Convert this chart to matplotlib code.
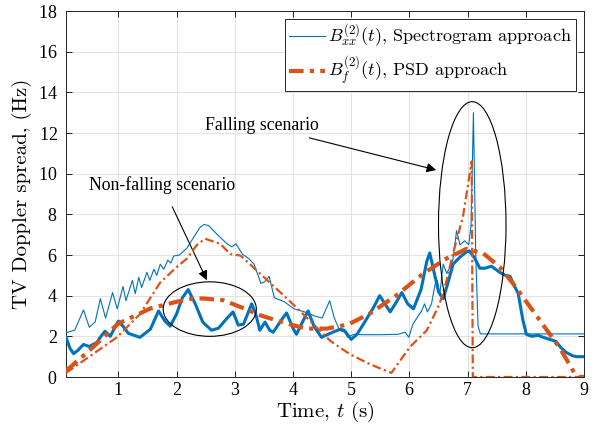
import matplotlib
matplotlib.use("Agg")
import matplotlib.pyplot as plt
from matplotlib.patches import Ellipse

plt.rcParams['font.family'] = ['Liberation Serif', 'DejaVu Serif']
plt.rcParams['mathtext.fontset'] = 'cm'
plt.rcParams['axes.formatter.use_mathtext'] = True

# Spectrogram approach, falling scenario (thin blue)
spec_fall_t = [0.1, 0.25, 0.40, 0.50, 0.60, 0.69, 0.78, 0.90, 0.98, 1.08, 1.13, 1.24, 1.29, 1.35, 1.40,
               1.49, 1.54, 1.61, 1.66, 1.72, 1.78, 1.85, 1.90, 1.95, 2.05, 2.18, 2.30, 2.40, 2.47, 2.55,
               2.70, 2.87, 2.95, 3.02, 3.13, 3.25, 3.33, 3.45, 3.52, 3.59, 3.68, 3.85, 4.02, 4.20, 4.37,
               4.50, 4.63, 4.71, 4.80, 4.89, 4.94, 5.04, 5.20, 5.50, 5.80, 5.93, 5.99, 6.06, 6.21, 6.26,
               6.31, 6.38, 6.44, 6.48, 6.52, 6.58, 6.64, 6.70, 6.75, 6.81, 6.87, 6.95, 7.02, 7.06, 7.10,
               7.14, 7.18, 7.22, 9.0]
spec_fall_v = [2.18, 2.3, 3.3, 2.45, 2.7, 3.85, 2.9, 4.15, 3.35, 4.45, 3.75, 4.75, 4.1, 4.9, 4.4,
               5.15, 4.75, 5.3, 5.0, 5.55, 5.3, 5.75, 5.6, 5.95, 6.0, 6.35, 6.9, 7.35, 7.5, 7.45,
               7.0, 6.55, 6.4, 6.55, 6.05, 5.8, 5.55, 4.6, 4.7, 4.95, 3.9, 3.7, 3.35, 3.2, 3.0,
               2.9, 3.75, 2.9, 2.3, 2.2, 1.95, 2.1, 2.08, 2.08, 2.1, 2.2, 1.95, 2.6, 3.25, 3.6,
               3.2, 3.6, 4.55, 4.75, 4.0, 5.55, 5.1, 5.4, 5.8, 7.2, 6.5, 6.7, 6.5, 7.5, 13.0,
               6.0, 2.5, 2.12, 2.12]

# Spectrogram approach, non-falling scenario (thick blue)
spec_nf_t = [0.1, 0.17, 0.23, 0.30, 0.40, 0.50, 0.63, 0.70, 0.77, 0.86, 1.00, 1.08, 1.17, 1.37, 1.55,
             1.69, 1.80, 1.89, 2.00, 2.10, 2.20, 2.32, 2.45, 2.60, 2.72, 2.87, 2.97, 3.06, 3.15, 3.29,
             3.36, 3.43, 3.52, 3.60, 3.66, 3.80, 3.89, 4.00, 4.06, 4.18, 4.26, 4.36, 4.49, 4.64, 4.81,
             4.88, 5.00, 5.10, 5.21, 5.38, 5.49, 5.58, 5.67, 5.78, 5.87, 5.97, 6.07, 6.20, 6.30, 6.35,
             6.42, 6.50, 6.58, 6.66, 6.75, 6.87, 6.98, 7.03, 7.12, 7.21, 7.30, 7.41, 7.55, 7.65, 7.73,
             7.80, 7.87, 7.95, 8.01, 8.10, 8.21, 8.30, 8.41, 8.52, 8.60, 8.70, 8.80, 8.87, 9.00]
spec_nf_v = [1.95, 1.4, 1.15, 1.3, 1.6, 1.5, 1.7, 2.0, 2.25, 2.0, 2.75, 2.5, 2.15, 1.95, 2.35,
             3.25, 2.75, 2.5, 3.1, 3.9, 4.3, 3.6, 2.7, 2.3, 2.4, 2.9, 3.2, 2.55, 2.6, 3.6,
             3.1, 2.3, 2.7, 2.3, 2.2, 2.8, 3.15, 2.4, 2.1, 2.8, 3.25, 2.5, 1.95, 2.15, 2.35,
             2.3, 1.85, 2.1, 2.6, 3.4, 4.0, 3.6, 3.2, 3.7, 4.15, 3.6, 3.35, 4.3, 5.7, 6.1,
             5.2, 4.2, 3.85, 4.6, 5.55, 5.9, 6.15, 6.2, 5.85, 5.35, 5.35, 5.45, 5.15, 5.0, 4.95,
             4.5, 4.1, 2.8, 2.1, 2.0, 2.05, 1.95, 1.85, 1.75, 1.45, 1.2, 1.05, 1.0, 1.0]

# PSD approach, falling scenario (thin orange dash-dot)
psd_fall_t = [0.1, 0.97, 1.37, 1.72, 2.0, 2.18, 2.35, 2.49, 2.75, 2.92, 3.1, 3.32, 3.66, 4.0, 4.35,
              4.64, 4.81, 4.98, 5.32, 5.69, 6.01, 6.30, 6.52, 6.64, 6.75, 6.92, 7.07, 7.09, 9.0]
psd_fall_v = [0.2, 1.94, 3.09, 4.65, 5.4, 5.83, 6.5, 6.8, 6.55, 6.05, 5.97, 5.39, 4.49, 3.58, 2.6,
              1.78, 1.44, 1.12, 0.63, 0.2, 1.48, 2.3, 3.6, 4.76, 6.08, 7.88, 10.6, 0.0, 0.0]

# PSD approach, non-falling scenario (thick orange dash-dot)
psd_nf_t = [0.1, 0.5, 1.0, 1.55, 2.0, 2.29, 2.46, 2.8, 3.09, 3.43, 3.89, 4.23, 4.58, 4.81, 4.98,
            5.32, 5.78, 6.24, 6.64, 6.98, 7.27, 7.55, 7.78, 8.01, 8.3, 8.59, 8.84, 8.9, 9.0]
psd_nf_v = [0.3, 1.3, 2.63, 3.37, 3.7, 3.86, 3.86, 3.78, 3.45, 3.04, 2.63, 2.38, 2.38, 2.5, 2.63,
            3.12, 4.02, 5.09, 5.83, 6.3, 6.08, 5.42, 4.6, 3.7, 2.55, 1.4, 0.17, 0.0, 0.0]

x_ticks = [1, 2, 3, 4, 5, 6, 7, 8, 9]
y_ticks = [0, 2, 4, 6, 8, 10, 12, 14, 16, 18]

blue = '#0072BD'
orange = '#D95319'

fig = plt.figure(figsize=(6.03, 4.33), dpi=100)
ax = fig.add_axes([66/603, 56/433, (584-66)/603, (377-11)/433])

ax.plot(spec_fall_t, spec_fall_v, color=blue, lw=0.8,
        label=r'$B^{(2)}_{xx}(t)$, Spectrogram approach', zorder=3)
ax.plot(spec_nf_t, spec_nf_v, color=blue, lw=2.2, zorder=3)
ax.plot(psd_fall_t, psd_fall_v, color=orange, lw=1.6, linestyle=(0, (4, 1.5, 1, 1.5)), zorder=4)
ax.plot(psd_nf_t, psd_nf_v, color=orange, lw=3.0, linestyle=(0, (3.5, 1.5, 1, 1.5)),
        label=r'$B^{(2)}_{f}(t)$, PSD approach', zorder=4)

ax.add_patch(Ellipse((2.57, 3.34), 1.60, 2.68, fill=False, edgecolor='black', lw=0.8, zorder=5))
ax.add_patch(Ellipse((7.08, 7.49), 1.16, 12.1, fill=False, edgecolor='black', lw=0.8, zorder=5))

ax.annotate('Non-falling scenario', xy=(2.52, 4.76), xytext=(1.75, 9.44),
            ha='center', va='center', family='Liberation Serif', fontsize=12.8,
            arrowprops=dict(arrowstyle='-|>', color='black', lw=0.8, mutation_scale=14,
                            shrinkA=8, shrinkB=0))
ax.annotate('Falling scenario', xy=(6.46, 10.18), xytext=(3.47, 12.35),
            ha='center', va='center', family='Liberation Serif', fontsize=12.8,
            arrowprops=dict(arrowstyle='-|>', color='black', lw=0.8, mutation_scale=14,
                            shrinkA=2, shrinkB=0))

ax.set_xlim(0.1, 9)
ax.set_ylim(0, 18)
ax.set_xticks(x_ticks)
ax.set_yticks(y_ticks)
ax.tick_params(direction='in', top=True, right=True, labelsize=13, length=4, width=0.6)
ax.tick_params(axis='y', pad=6)
ax.grid(True, color='#e3e3e3', lw=0.8)
ax.set_axisbelow(True)
for s in ax.spines.values():
    s.set_linewidth(0.7)
    s.set_color('#262626')

ax.set_xlabel(r'Time, $t$ (s)', fontsize=15, family='cmr10', labelpad=1)
ax.set_ylabel('TV Doppler spread, (Hz)', fontsize=15, family='cmr10', labelpad=4)

leg = ax.legend(loc='upper right', prop=dict(family='cmr10', size=13), fancybox=False, framealpha=1,
                edgecolor='#262626', handlelength=2.0, borderaxespad=0.45,
                handletextpad=0.2, borderpad=0.2, labelspacing=0.3)
leg.get_frame().set_linewidth(0.7)

fig.savefig('out.png', dpi=100)
